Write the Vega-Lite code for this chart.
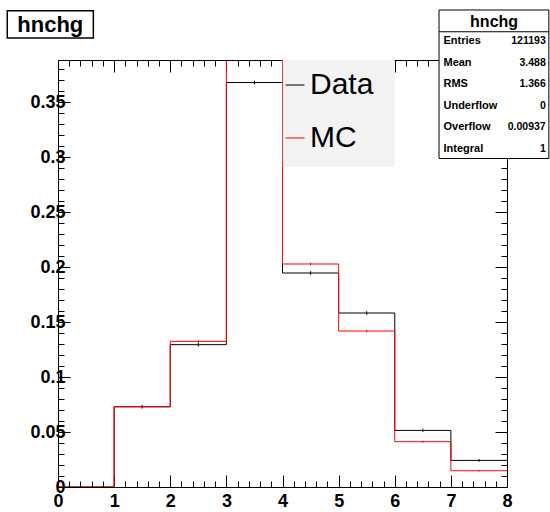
{
  "$schema": "https://vega.github.io/schema/vega-lite/v6.json",
  "width": 449,
  "height": 427,
  "autosize": {"type": "none"},
  "padding": {"left": 58, "top": 60, "right": 43, "bottom": 25},
  "background": "white",
  "config": {
    "view": {"stroke": null},
    "font": "Liberation Sans",
    "axis": {
      "domainColor": "black", "domainWidth": 1, "tickColor": "black", "tickWidth": 1,
      "labelFont": "Liberation Sans", "labelFontWeight": "bold", "labelFontSize": 18,
      "labelColor": "black", "grid": false, "title": null, "labelFlush": false, "labelOverlap": false
    },
    "legend": {
      "orient": "none", "legendX": 222, "legendY": 10, "padding": 0, "direction": "vertical",
      "symbolType": "stroke", "symbolSize": 361, "symbolStrokeWidth": 1,
      "labelFontSize": 30, "labelFont": "Liberation Sans", "labelColor": "black",
      "labelOffset": 0, "rowPadding": 23, "title": null
    }
  },
  "datasets": {
    "hist": [
      {"series": "Data", "lo": 0, "hi": 1, "mid": 0.5, "value": 0, "err": 0},
      {"series": "Data", "lo": 1, "hi": 2, "mid": 1.5, "value": 0.073, "err": 0.0017},
      {"series": "Data", "lo": 2, "hi": 3, "mid": 2.5, "value": 0.1295, "err": 0.0017},
      {"series": "Data", "lo": 3, "hi": 4, "mid": 3.5, "value": 0.368, "err": 0.0017},
      {"series": "Data", "lo": 4, "hi": 5, "mid": 4.5, "value": 0.1947, "err": 0.0017},
      {"series": "Data", "lo": 5, "hi": 6, "mid": 5.5, "value": 0.1583, "err": 0.0017},
      {"series": "Data", "lo": 6, "hi": 7, "mid": 6.5, "value": 0.0515, "err": 0.0015},
      {"series": "Data", "lo": 7, "hi": 8, "mid": 7.5, "value": 0.0242, "err": 0.0012},
      {"series": "MC", "lo": 0, "hi": 1, "mid": 0.5, "value": 0, "err": 0},
      {"series": "MC", "lo": 1, "hi": 2, "mid": 1.5, "value": 0.073, "err": 0.0012},
      {"series": "MC", "lo": 2, "hi": 3, "mid": 2.5, "value": 0.1325, "err": 0.0012},
      {"series": "MC", "lo": 3, "hi": 4, "mid": 3.5, "value": 0.392, "err": 0.0012},
      {"series": "MC", "lo": 4, "hi": 5, "mid": 4.5, "value": 0.2029, "err": 0.0012},
      {"series": "MC", "lo": 5, "hi": 6, "mid": 5.5, "value": 0.1419, "err": 0.0012},
      {"series": "MC", "lo": 6, "hi": 7, "mid": 6.5, "value": 0.0412, "err": 0.0010},
      {"series": "MC", "lo": 7, "hi": 8, "mid": 7.5, "value": 0.0148, "err": 0.0008}
    ],
    "stats": [
      {"stat": "Entries", "val": "121193"},
      {"stat": "Mean", "val": "3.488"},
      {"stat": "RMS", "val": "1.366"},
      {"stat": "Underflow", "val": "0"},
      {"stat": "Overflow", "val": "0.00937"},
      {"stat": "Integral", "val": "1"}
    ]
  },
  "layer": [
    {
      "layer": [
        {
          "data": {"name": "hist"},
          "transform": [
            {"fold": ["lo", "hi"], "as": ["k", "edge"]},
            {"window": [{"op": "row_number", "as": "ord"}]}
          ],
          "mark": {"type": "line", "clip": true, "strokeWidth": 1},
          "encoding": {
            "x": {"field": "edge", "type": "quantitative",
                  "scale": {"domain": [0, 8], "nice": false, "zero": false},
                  "axis": {"orient": "bottom", "values": [0,1,2,3,4,5,6,7,8], "tickSize": -12, "labelPadding": 17, "format": "d"}},
            "y": {"field": "value", "type": "quantitative",
                  "scale": {"domain": [0, 0.3885], "nice": false, "zero": false},
                  "axis": {"orient": "left", "values": [0,0.05,0.1,0.15,0.2,0.25,0.3,0.35], "tickSize": -12, "labelPadding": 5, "format": "~g"}},
            "color": {"field": "series", "type": "nominal",
                      "scale": {"domain": ["Data", "MC"], "range": ["black", "red"]}},
            "order": {"field": "ord", "type": "quantitative"}
          }
        },
        {
          "data": {"name": "hist"},
          "transform": [{"filter": "datum.series == 'Data' && datum.err > 0 && datum.value < 0.38"}],
          "mark": {"type": "errorbar", "color": "black", "thickness": 1},
          "encoding": {
            "x": {"field": "mid", "type": "quantitative", "axis": null},
            "y": {"field": "value", "type": "quantitative", "axis": null},
            "yError": {"field": "err"}
          }
        },
        {
          "data": {"name": "hist"},
          "transform": [{"filter": "datum.series == 'MC' && datum.err > 0 && datum.value < 0.38"}],
          "mark": {"type": "errorbar", "color": "red", "thickness": 1},
          "encoding": {
            "x": {"field": "mid", "type": "quantitative", "axis": null},
            "y": {"field": "value", "type": "quantitative", "axis": null},
            "yError": {"field": "err"}
          }
        },
        {
          "data": {"name": "hist"},
          "mark": {"type": "point", "opacity": 0},
          "encoding": {
            "x": {"field": "mid", "type": "quantitative",
                  "axis": {"orient": "top", "values": [0,1,2,3,4,5,6,7,8], "tickSize": -12, "labels": false}},
            "y": {"field": "value", "type": "quantitative",
                  "axis": {"orient": "right", "values": [0,0.05,0.1,0.15,0.2,0.25,0.3,0.35], "tickSize": -12, "labels": false}}
          }
        },
        {
          "data": {"name": "hist"},
          "mark": {"type": "point", "opacity": 0},
          "encoding": {
            "x": {"field": "mid", "type": "quantitative",
                  "axis": {"orient": "bottom", "values": [0.2,0.4,0.6,0.8,1.2,1.4,1.6,1.8,2.2,2.4,2.6,2.8,3.2,3.4,3.6,3.8,4.2,4.4,4.6,4.8,5.2,5.4,5.6,5.8,6.2,6.4,6.6,6.8,7.2,7.4,7.6,7.8], "tickSize": -6, "labels": false, "domain": false}},
            "y": {"field": "value", "type": "quantitative",
                  "axis": {"orient": "left", "values": [0.01,0.02,0.03,0.04,0.06,0.07,0.08,0.09,0.11,0.12,0.13,0.14,0.16,0.17,0.18,0.19,0.21,0.22,0.23,0.24,0.26,0.27,0.28,0.29,0.31,0.32,0.33,0.34,0.36,0.37,0.38], "tickSize": -6, "labels": false, "domain": false}}
          }
        },
        {
          "data": {"name": "hist"},
          "mark": {"type": "point", "opacity": 0},
          "encoding": {
            "x": {"field": "mid", "type": "quantitative",
                  "axis": {"orient": "top", "values": [0.2,0.4,0.6,0.8,1.2,1.4,1.6,1.8,2.2,2.4,2.6,2.8,3.2,3.4,3.6,3.8,4.2,4.4,4.6,4.8,5.2,5.4,5.6,5.8,6.2,6.4,6.6,6.8,7.2,7.4,7.6,7.8], "tickSize": -6, "labels": false, "domain": false}},
            "y": {"field": "value", "type": "quantitative",
                  "axis": {"orient": "right", "values": [0.01,0.02,0.03,0.04,0.06,0.07,0.08,0.09,0.11,0.12,0.13,0.14,0.16,0.17,0.18,0.19,0.21,0.22,0.23,0.24,0.26,0.27,0.28,0.29,0.31,0.32,0.33,0.34,0.36,0.37,0.38], "tickSize": -6, "labels": false, "domain": false}}
          }
        },
        {
          "data": {"values": [{}]},
          "mark": {"type": "rect", "fill": "#f2f2f2", "stroke": null},
          "encoding": {
            "x": {"datum": 4.005, "type": "quantitative", "axis": null},
            "x2": {"datum": 6.0},
            "y": {"datum": 0.3885, "type": "quantitative", "axis": null},
            "y2": {"datum": 0.2913}
          }
        },
        {
          "data": {"values": [{}]},
          "mark": {"type": "rect", "fill": "white", "stroke": "black", "strokeWidth": 1},
          "encoding": {
            "x": {"datum": 6.789, "type": "quantitative", "axis": null},
            "x2": {"datum": 8.746},
            "y": {"datum": 0.434, "type": "quantitative", "axis": null},
            "y2": {"datum": 0.2989}
          }
        },
        {
          "data": {"values": [{}]},
          "mark": {"type": "rule", "stroke": "black", "strokeWidth": 1},
          "encoding": {
            "x": {"datum": 6.789, "type": "quantitative", "axis": null},
            "x2": {"datum": 8.746},
            "y": {"datum": 0.4142, "type": "quantitative", "axis": null}
          }
        },
        {
          "data": {"values": [{"name": "hnchg"}]},
          "mark": {"type": "text", "fontSize": 16, "fontWeight": "bold", "align": "center", "baseline": "alphabetic", "color": "black"},
          "encoding": {
            "x": {"datum": 7.77, "type": "quantitative", "axis": null},
            "y": {"datum": 0.4188, "type": "quantitative", "axis": null},
            "text": {"field": "name"}
          }
        },
        {
          "data": {"values": [{}]},
          "mark": {"type": "rect", "fill": "white", "stroke": "black", "strokeWidth": 1.5},
          "encoding": {
            "x": {"datum": -0.904, "type": "quantitative", "axis": null},
            "x2": {"datum": 0.63},
            "y": {"datum": 0.4334, "type": "quantitative", "axis": null},
            "y2": {"datum": 0.4085}
          }
        },
        {
          "data": {"values": [{"name": "hnchg"}]},
          "mark": {"type": "text", "fontSize": 22, "fontWeight": "bold", "align": "center", "baseline": "alphabetic", "color": "black"},
          "encoding": {
            "x": {"datum": -0.137, "type": "quantitative", "axis": null},
            "y": {"datum": 0.4139, "type": "quantitative", "axis": null},
            "text": {"field": "name"}
          }
        }
      ],
      "resolve": {"axis": {"x": "independent", "y": "independent"}}
    },
    {
      "data": {"name": "stats"},
      "mark": {"type": "text", "fontSize": 11, "fontWeight": "bold", "align": "left", "baseline": "alphabetic", "color": "black"},
      "encoding": {
        "x": {"datum": 6.868, "type": "quantitative", "axis": null},
        "y": {"field": "stat", "type": "ordinal", "sort": null,
              "scale": {"type": "point", "domain": ["Entries", "Mean", "RMS", "Underflow", "Overflow", "Integral"], "range": [-15.7, 91.7], "padding": 0},
              "axis": null},
        "text": {"field": "stat"}
      }
    },
    {
      "data": {"name": "stats"},
      "mark": {"type": "text", "fontSize": 10.5, "fontWeight": "bold", "align": "right", "baseline": "alphabetic", "color": "black"},
      "encoding": {
        "x": {"datum": 8.69, "type": "quantitative", "axis": null},
        "y": {"field": "stat", "type": "ordinal", "sort": null,
              "scale": {"type": "point", "domain": ["Entries", "Mean", "RMS", "Underflow", "Overflow", "Integral"], "range": [-15.7, 91.7], "padding": 0},
              "axis": null},
        "text": {"field": "val"}
      }
    }
  ],
  "resolve": {"scale": {"y": "independent"}}
}
